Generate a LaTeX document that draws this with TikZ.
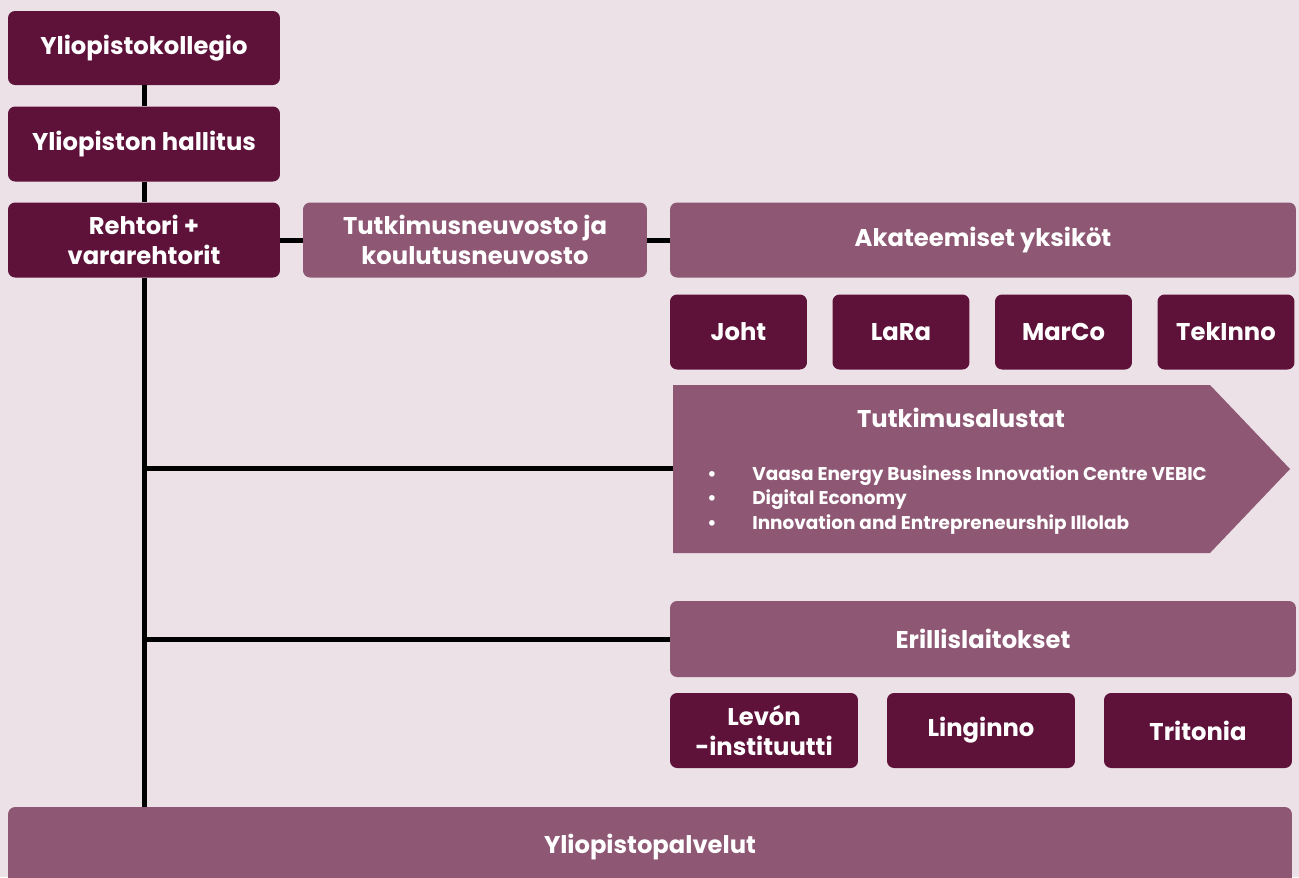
\documentclass[tikz,border=0pt]{standalone}
\usepackage{fontspec}
\setmainfont{Poppins}
\usepackage{tikz}

\definecolor{uvbg}{HTML}{EBE1E7}
\definecolor{uvdark}{HTML}{5E1239}
\definecolor{uvlight}{HTML}{8E5773}

\begin{document}
\begin{tikzpicture}[x=0.02cm, y=-0.02cm,
box/.style={rounded corners=4pt, text=white, align=center, inner sep=0pt,
	font=\bfseries\fontsize{13.8}{17}\selectfont},
darkbox/.style={box, fill=uvdark},
lightbox/.style={box, fill=uvlight},
line/.style={line width=0.1cm, black}]

\useasboundingbox (0,0) rectangle (1299,877);
\fill[uvbg] (0,0) rectangle (1299,877);

% Left column
\node[darkbox, minimum width=5.44cm, minimum height=1.48cm] (kollegio) at (144,48) {Yliopistokollegio};
\node[darkbox, minimum width=5.44cm, minimum height=1.5cm] (hallitus) at (144,144) {Yliopiston hallitus};
\node[darkbox, minimum width=5.44cm, minimum height=1.5cm] (rehtori) at (144,240) {Rehtori +\\vararehtorit};

% Councils and academic units
\node[lightbox, minimum width=6.88cm, minimum height=1.5cm] (neuvosto) at (475,240) {Tutkimusneuvosto ja\\koulutusneuvosto};
\node[lightbox, minimum width=12.52cm, minimum height=1.5cm] (akateemiset) at (983,240) {Akateemiset yksiköt};
\foreach \name/\lbl [count=\i from 0] in {joht/Joht, lara/LaRa, marco/MarCo, tekinno/TekInno} {
	\node[darkbox, minimum width=2.74cm, minimum height=1.5cm] (\name) at (738.5+162.5*\i,332) {\lbl};
}

% Research platforms (arrow)
\fill[uvlight] (673,385) -- (1210,385) -- (1290,469) -- (1210,553) -- (673,553) -- cycle;
\coordinate (alustat) at (673,468);
\node[text=white, font=\bfseries\fontsize{13.8}{17}\selectfont] (alustattitle) at (961,418) {Tutkimusalustat};
\node[anchor=west, text=white, align=left, inner sep=0pt,
	font=\bfseries\fontsize{10.5}{14}\selectfont] (alustatlist) at (707,500)
	{\makebox[0.9cm][l]{•}Vaasa Energy Business Innovation Centre VEBIC\\
	 \makebox[0.9cm][l]{•}Digital Economy\\
	 \makebox[0.9cm][l]{•}Innovation and Entrepreneurship Illolab};

% Independent institutes
\node[lightbox, minimum width=12.52cm, minimum height=1.52cm] (erillis) at (983,639) {Erillislaitokset};
\foreach \name/\lbl [count=\i from 0] in {levon/{Levón\\-instituutti}, linginno/Linginno, tritonia/Tritonia} {
	\node[darkbox, minimum width=3.76cm, minimum height=1.5cm] (\name) at (764+217*\i,730.5) {\lbl};
}

% University services
\node[lightbox, minimum width=25.68cm, minimum height=1.6cm] (palvelut) at (650,847) {Yliopistopalvelut};

% Connectors
\draw[line] (kollegio) -- (hallitus);
\draw[line] (hallitus) -- (rehtori);
\draw[line] (rehtori) -- (neuvosto);
\draw[line] (neuvosto) -- (akateemiset);
\draw[line] (rehtori.south) -- (rehtori.south |- palvelut.north);
\draw[line] (rehtori.south |- alustat) -- (alustat);
\draw[line] (rehtori.south |- erillis.west) -- (erillis.west);

\end{tikzpicture}
\end{document}
